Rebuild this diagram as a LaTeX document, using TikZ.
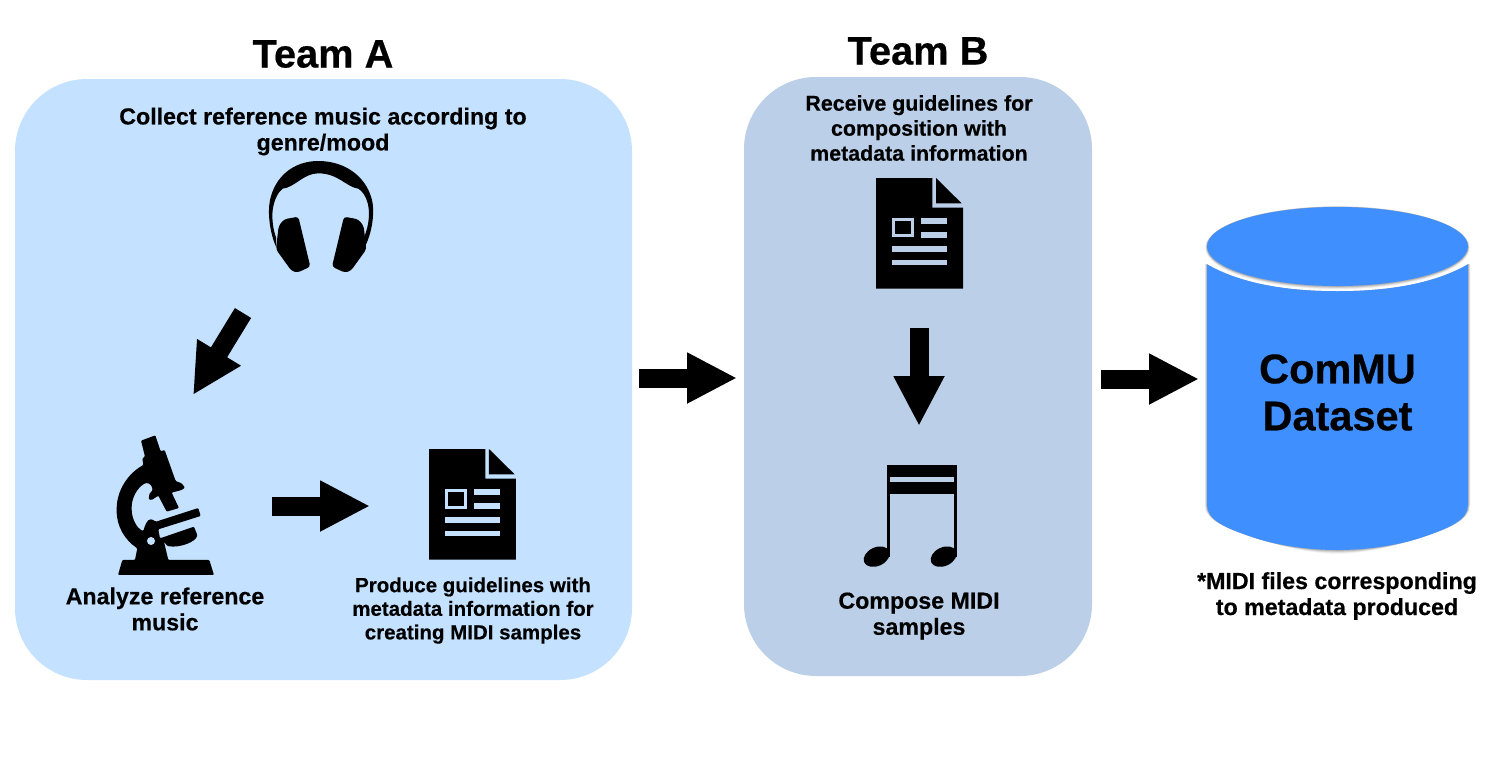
\documentclass[tikz,border=0pt]{standalone}
\usepackage{fontspec}
\setmainfont[BoldFeatures={FakeBold=0.45}]{Liberation Sans}
\usetikzlibrary{arrows.meta}
\definecolor{panelA}{HTML}{C4E2FF}
\definecolor{panelB}{HTML}{BBCFE8}
\definecolor{dbblue}{HTML}{3F8FFF}
\tikzset{
  x=1pt,y=-1pt,
  panel/.style={rounded corners=72pt,line width=0pt},
  teamtitle/.style={font=\fontsize{39.8}{43}\selectfont\bfseries,align=center,anchor=center,inner sep=0},
  caption/.style={font=\fontsize{23.2}{26}\selectfont\bfseries,align=center,anchor=center,inner sep=0},
  captionmd/.style={font=\fontsize{21.4}{25}\selectfont\bfseries,align=center,anchor=center,inner sep=0},
  captionsm/.style={font=\fontsize{20.5}{23.6}\selectfont\bfseries,align=center,anchor=center,inner sep=0},
  dblabel/.style={font=\fontsize{41.5}{47}\selectfont\bfseries,align=center,anchor=center,inner sep=0},
  blockarrow/.style={line width=19pt,-{Triangle[length=50pt,width=47.5pt]},black},
  zoomed/.style={x=0.3333pt,y=-0.3333pt},
}
\newcommand{\docicon}[3]{% x, y shift, panel colour
  \begin{scope}[shift={(#1,#2)},zoomed]
    \fill[black] (48,24) -- (217,24) -- (217,113) -- (309,113) -- (309,356) -- (48,356) -- cycle;
    \fill[black] (228,24) -- (305,100) -- (228,100) -- cycle;
    \draw[#3,line width=3pt] (100,149) rectangle (157,198);
    \fill[#3] (183,144) rectangle (261,162);
    \fill[#3] (183,186) rectangle (261,204);
    \fill[#3] (96,228) rectangle (261,246);
    \fill[#3] (96,270) rectangle (261,286);
  \end{scope}}
\begin{document}
\begin{tikzpicture}
\useasboundingbox (0,0) rectangle (1499,761);
\fill[white] (0,0) rectangle (1499,761);
% panels
\fill[panelA,panel] (15,79) rectangle (632,680);
\fill[panelB,panel] (744,77) rectangle (1092,676);
% titles
\node[teamtitle] (teamA) at (323,54) {Team A};
\node[teamtitle] (teamB) at (918,51) {Team B};
% headphones
\begin{scope}[shift={(250,150)},zoomed]
  \fill[black] (78,290) .. controls (60,250) and (52,190) .. (60,150)
    .. controls (75,80) and (130,33) .. (205,33)
    .. controls (290,33) and (355,85) .. (368,160)
    .. controls (373,200) and (365,250) .. (345,290)
    -- (342,262) .. controls (358,225) and (362,180) .. (350,150)
    .. controls (345,135) and (335,122) .. (325,116)
    .. controls (290,112) and (265,70) .. (205,70)
    .. controls (160,70) and (135,112) .. (98,116)
    .. controls (85,125) and (72,150) .. (68,180)
    .. controls (65,210) and (70,240) .. (78,262) -- cycle;
  \fill[black,rounded corners=3pt] (86,228) -- (102,208) -- (145,200) -- (181,350) -- (142,368) -- (124,362) -- (78,298) -- cycle;
  \fill[black,rounded corners=3pt] (341,228) -- (325,208) -- (282,200) -- (246,350) -- (285,368) -- (303,362) -- (349,298) -- cycle;
\end{scope}
% microscope
\begin{scope}[shift={(90,420)},zoomed]
  \fill[black,rounded corners=1pt] (153,62) -- (196,46) -- (212,94) -- (224,90) -- (257,183) -- (275,190) -- (285,203) -- (275,210) -- (245,218) -- (267,264) -- (230,275) -- (205,227) -- (185,240) -- (176,238) -- (178,222) -- (188,210)
    .. controls (185,195) and (178,188) .. (165,190)
    .. controls (140,205) and (125,235) .. (125,265)
    .. controls (125,295) and (140,325) .. (160,333)
    .. controls (165,315) and (172,298) .. (185,298)
    -- (198,305) -- (325,264) -- (332,288) -- (205,328) -- (210,355) -- (312,320) -- (322,345)
    .. controls (318,365) and (270,385) .. (232,378)
    -- (222,365) -- (235,420) -- (358,420) -- (372,465) -- (84,465) -- (97,420) -- (135,420) -- (142,385)
    .. controls (105,360) and (80,320) .. (80,270)
    .. controls (80,210) and (115,160) .. (160,135)
    -- (157,115) -- (165,110) -- cycle;
  \fill[panelA] (183,363) circle[radius=12];
\end{scope}
% documents
\docicon{860}{170}{panelB}
\docicon{413}{441}{panelA}
% music notes
\begin{scope}[shift={(850,455)},zoomed]
  \fill[black] (110,30) rectangle (321,117);
  \fill[panelB] (120,66) rectangle (312,81);
  \fill[black] (110,117) rectangle (120,305);
  \fill[black] (312,117) rectangle (321,305);
  \fill[black,rotate around={25:(80,305)}] (80,305) ellipse[x radius=41,y radius=28];
  \fill[black,rotate around={25:(281,305)}] (281,305) ellipse[x radius=41,y radius=28];
\end{scope}
% cylinder
\foreach \off/\op in {5/0.03,4/0.05,3/0.07,2/0.09,1/0.11}{
  \fill[black,opacity=\op] (1207-\off*0.5,264) -- (1207-\off*0.5,505) .. controls (1207-\off*0.5,520) and (1225,528) .. (1255,538) .. controls (1280,546) and (1310,550+\off*0.8) .. (1337.5,550+\off*0.8) .. controls (1365,550+\off*0.8) and (1395,546) .. (1420,538) .. controls (1450,528) and (1468+\off*0.5,520) .. (1468+\off*0.5,505) -- (1468+\off*0.5,264) -- cycle;
}
\fill[dbblue] (1207,264) .. controls (1240,283) and (1285,291) .. (1337.5,291) .. controls (1390,291) and (1435,283) .. (1468,264) -- (1468,505) .. controls (1468,520) and (1450,528) .. (1420,538) .. controls (1395,546) and (1365,550) .. (1337.5,550) .. controls (1310,550) and (1280,546) .. (1255,538) .. controls (1225,528) and (1207,520) .. (1207,505) -- cycle;
\fill[white] (1200,252) -- (1200,264) -- (1207,264) .. controls (1240,283) and (1285,291) .. (1337.5,291) .. controls (1390,291) and (1435,283) .. (1468,264) -- (1475,264) -- (1475,200) -- (1200,200) -- cycle;
\foreach \off/\op in {4/0.06,3/0.08,2/0.10,1/0.12}{
  \fill[black,opacity=\op] (1337.5,246.5+\off*0.3) ellipse[x radius=130.5+\off*0.4,y radius=39.5+\off*0.5];
}
\fill[dbblue] (1337.5,246.5) ellipse[x radius=130.5,y radius=39.5];
\node[dblabel] (db) at (1337.5,392.5) {ComMU\\Dataset};
% captions
\node[caption] (collect) at (323,131.5) {Collect reference music according to\\genre/mood};
\node[caption] (analyze) at (165,609) {Analyze reference\\music};
\node[captionsm] (produce) at (473,610.5) {Produce guidelines with\\metadata information for\\creating MIDI samples};
\node[captionmd] (receive) at (919,128) {Receive guidelines for\\composition with\\metadata information};
\node[caption] (compose) at (919,616) {Compose MIDI\\samples};
\node[caption] (note) at (1337,596) {*MIDI files corresponding\\to metadata produced};
% arrows
\coordinate (headphonesOut) at (243,313);
\coordinate (microscopeIn) at (193,395);
\coordinate (microscopeOut) at (272,506);
\coordinate (docIn) at (370,506);
\coordinate (teamAOut) at (639,378);
\coordinate (teamBIn) at (737,378);
\coordinate (docBOut) at (919,328);
\coordinate (noteIn) at (919,426);
\coordinate (teamBOut) at (1101,379);
\coordinate (dbIn) at (1199,379);
\draw[blockarrow] (headphonesOut) -- (microscopeIn);
\draw[blockarrow] (microscopeOut) -- (docIn);
\draw[blockarrow] (teamAOut) -- (teamBIn);
\draw[blockarrow] (docBOut) -- (noteIn);
\draw[blockarrow] (teamBOut) -- (dbIn);
\end{tikzpicture}
\end{document}
